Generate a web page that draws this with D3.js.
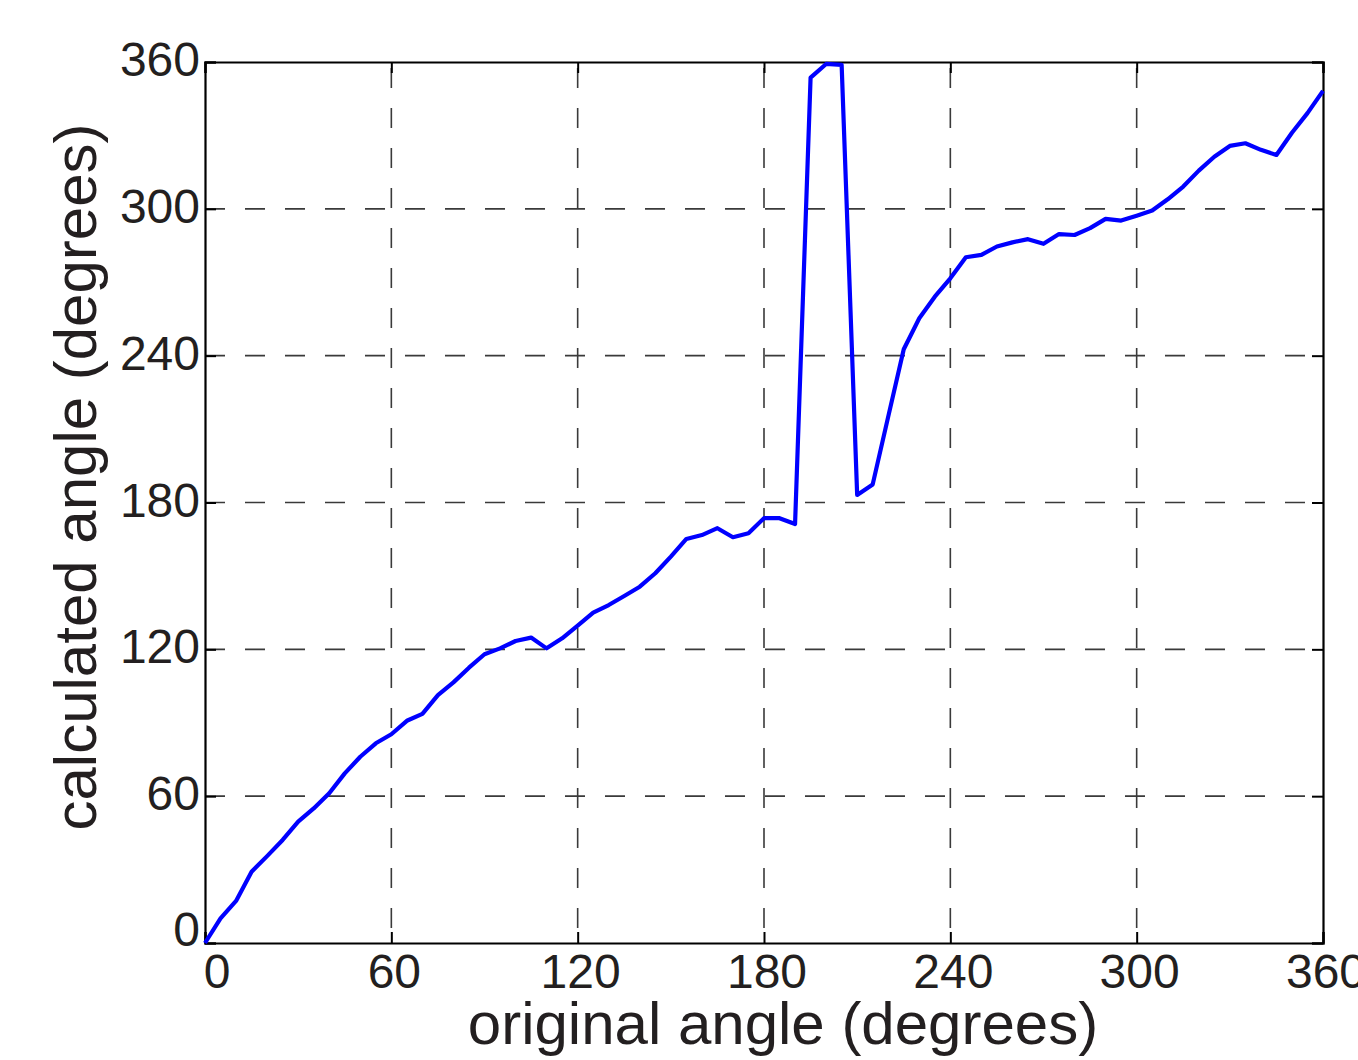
<!DOCTYPE html>
<html>
<head>
<meta charset="utf-8">
<script src="https://cdn.jsdelivr.net/npm/d3@7"></script>
<style>
html, body { margin: 0; padding: 0; background: #ffffff; }
svg { display: block; }
text { font-family: "Liberation Sans", Arial, Helvetica, sans-serif; fill: #231f20; }
</style>
</head>
<body>
<svg id="chart" width="1358" height="1060"></svg>
<script>
// ---- data ----
const originalAngles = [0,5,10,15,20,25,30,35,40,45,50,55,60,65,70,75,80,85,90,95,100,105,110,115,120,125,130,135,140,145,150,155,160,165,170,175,180,185,190,195,200,205,210,215,220,225,230,235,240,245,250,255,260,265,270,275,280,285,290,295,300,305,310,315,320,325,330,335,340,345,350,355,360];
const calculatedAngles = [0,10.1,17.2,29.1,35.5,42.1,49.6,55.0,61.2,69.3,76.1,81.6,85.3,90.8,93.6,101.3,106.5,112.5,118.0,120.4,123.4,124.8,120.4,124.5,129.7,135.0,138.1,141.8,145.6,151.1,157.9,165.1,166.7,169.5,165.8,167.4,173.6,173.6,171.2,353.6,359.2,358.8,183.1,187.4,215.1,242.6,255.3,264.1,271.6,280.2,281.2,284.6,286.3,287.6,285.7,289.7,289.3,292.1,295.9,295.2,297.2,299.3,303.9,309.1,315.6,321.3,325.7,326.8,324.1,322.0,331.1,339.1,348.2];
const xTicks = [0,60,120,180,240,300,360];
const yTicks = [0,60,120,180,240,300,360];
const xLabel = "original angle (degrees)";
const yLabel = "calculated angle (degrees)";

// ---- layout ----
const L = 205, R = 1323, T = 62, B = 943;
const svg = d3.select("#chart");
svg.append("rect").attr("width",1358).attr("height",1060).attr("fill","#fff");

const x = d3.scaleLinear().domain([0,360]).range([L,R]);
const y = d3.scaleLinear().domain([0,360]).range([B,T]);

// grid
const grid = svg.append("g").attr("stroke","#3a3a3a").attr("stroke-width",1.6).attr("stroke-dasharray","20,20");
xTicks.slice(1,-1).forEach(v => {
  grid.append("line").attr("x1",x(v)).attr("x2",x(v)).attr("y1",T).attr("y2",B).attr("stroke-dashoffset",-6);
});
yTicks.slice(1,-1).forEach(v => {
  grid.append("line").attr("x1",L).attr("x2",R).attr("y1",y(v)).attr("y2",y(v));
});

// axes with inward ticks
const tk = 11;
const axB = svg.append("g").attr("transform",`translate(0,${B})`)
  .call(d3.axisTop(x).tickValues(xTicks).tickSize(tk).tickFormat(""));
const axT = svg.append("g").attr("transform",`translate(0,${T})`)
  .call(d3.axisBottom(x).tickValues(xTicks).tickSize(tk).tickFormat(""));
const axL = svg.append("g").attr("transform",`translate(${L},0)`)
  .call(d3.axisRight(y).tickValues(yTicks).tickSize(tk).tickFormat(""));
const axR = svg.append("g").attr("transform",`translate(${R},0)`)
  .call(d3.axisLeft(y).tickValues(yTicks).tickSize(tk).tickFormat(""));
[axB,axT,axL,axR].forEach(a => {
  a.selectAll("path").attr("stroke","#000").attr("stroke-width",2.2);
  a.selectAll("line").attr("stroke","#000").attr("stroke-width",2);
});

// tick labels
svg.append("g").selectAll("text").data(xTicks).join("text")
  .attr("x", d => x(d) + (d === 0 ? 12 : 3))
  .attr("y", 988)
  .attr("text-anchor","middle")
  .attr("font-size",48)
  .text(d => d);
svg.append("g").selectAll("text").data(yTicks).join("text")
  .attr("x", 200)
  .attr("y", d => y(d) + (d === 0 ? 3 : 14))
  .attr("text-anchor","end")
  .attr("font-size",48)
  .text(d => d);

// axis titles
svg.append("text").attr("x",783).attr("y",1044).attr("text-anchor","middle")
  .attr("font-size",60).text(xLabel);
svg.append("text").attr("transform","translate(96,477) rotate(-90)")
  .attr("text-anchor","middle").attr("font-size",60).text(yLabel);

// data line
const line = d3.line().x((d,i) => x(originalAngles[i])).y(d => y(d));
svg.append("path").datum(calculatedAngles)
  .attr("d", line)
  .attr("fill","none").attr("stroke","#0000ff").attr("stroke-width",4.2)
  .attr("stroke-linejoin","round");
</script>
</body>
</html>
